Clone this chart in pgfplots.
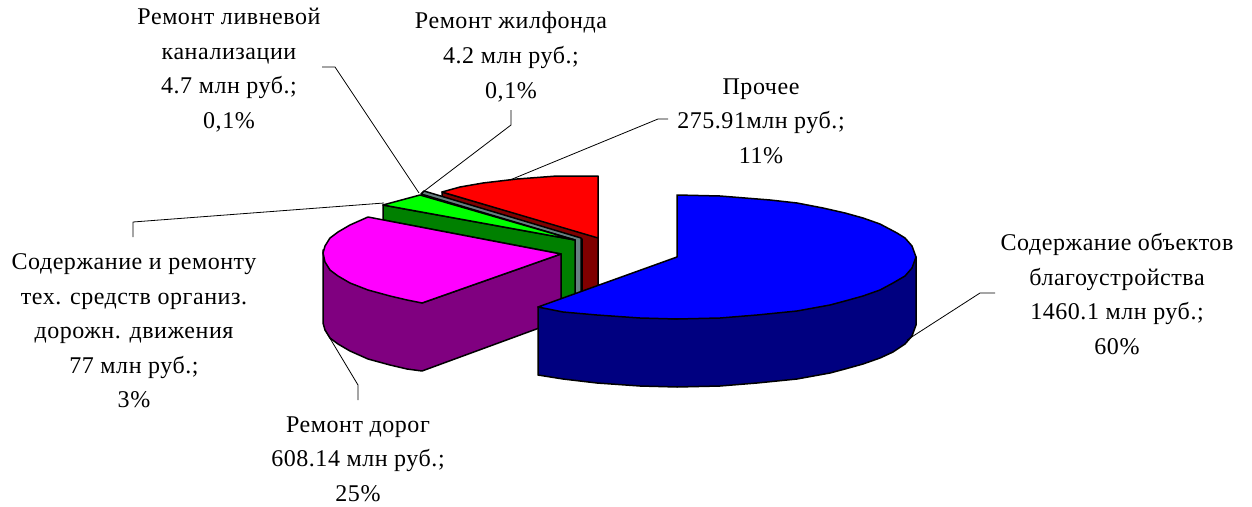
\documentclass[border=0pt]{standalone}
\usepackage{fontspec}
\setmainfont[LetterSpace=2.3]{Liberation Serif}
\usepackage{pgfplots}
\pgfplotsset{compat=1.18}
\definecolor{cblue}{HTML}{0000FF}
\definecolor{cnavy}{HTML}{000080}
\definecolor{cmag}{HTML}{FF00FF}
\definecolor{cpur}{HTML}{800080}
\definecolor{clime}{HTML}{00FF00}
\definecolor{cgreen}{HTML}{008000}
\definecolor{cred}{HTML}{FF0000}
\definecolor{cmar}{HTML}{800000}
\definecolor{cgray}{HTML}{668080}
\begin{document}
\begin{tikzpicture}[lab/.style={align=center,inner sep=0pt,font=\fontsize{24}{34.6}\selectfont}]
\path[use as bounding box] (0,0) rectangle (1252pt,506pt);
\begin{axis}[
  at={(0,0)}, anchor=south west,
  scale only axis, width=1252pt, height=506pt,
  xmin=0, xmax=1252, ymin=0, ymax=506, y dir=reverse,
  hide axis, clip=false,
  every axis plot/.append style={line join=round},
  poly/.style={draw=black, line width=1.5pt, mark=none},
  lead/.style={draw=black, line width=0.8pt, mark=none},
]
% Прочее (dark side, red top)
\addplot[poly, fill=cmar] coordinates {(442,192)(598,237)(598,290)(582,296)(582,239)(442,197)} -- cycle;
\addplot[poly, fill=cred] coordinates {(442,192)(460,187)(483,183)(517,179)(557,176)(598,176)(598,238)} -- cycle;
% Ремонт жилфонда / ливневой канализации
\addplot[poly, fill=cgray] coordinates {(421,194)(424,191)(581,238)(581,295)(575,297)(575,240)} -- cycle;
% Содержание и ремонт тех. средств
\addplot[poly, fill=cgreen] coordinates {(383,205)(575,240)(575,298)(561,303)(561,254)(383,220)} -- cycle;
\addplot[poly, fill=clime] coordinates {(383,205)(420,195)(575,240)} -- cycle;
% Ремонт дорог
\addplot[poly, fill=cpur] coordinates {(323,250)(323,323)(325,330)(330,338)(338,344)(350,351)(368,359)(390,365)(407,369)(422,371)(561,320)(561,254)(422,303)} -- cycle;
\addplot[poly, fill=cmag] coordinates {(368,217)(350,225)(338,232)(330,238)(325,246)(323,253)(325,262)(330,270)(338,276)(350,283)(368,290)(390,296)(407,300)(422,303)(561,254)} -- cycle;
% Содержание объектов благоустройства
\addplot[poly, fill=cnavy] coordinates {(538,307)(538,375)(563,379)(597,383)(640,386)(677,387)(720,386)(757,383)(797,379)(830,373)(845,369)(863,364)(880,358)(893,352)(905,344)(912,336)(916,325)(916,257)(677,319)} -- cycle;
\addplot[poly, fill=cblue] coordinates {(677,195)(720,196)(745,198)(770,200)(797,203)(823,208)(845,213)(863,218)(880,224)(897,233)(905,238)(912,246)(916,257)(912,268)(905,276)(893,283)(880,290)(863,296)(845,301)(830,305)(797,311)(757,315)(720,318)(677,319)(640,318)(597,315)(563,312)(538,307)(677,257)} -- cycle;
% выноски
\addplot[lead] coordinates {(322,67)(335,67)(419,193)};
\addplot[lead] coordinates {(511,110)(511,125)(423,192)};
\addplot[lead] coordinates {(668,119)(658,119)(510,180)};
\addplot[lead] coordinates {(133,237)(133,222)(384,203)};
\addplot[lead] coordinates {(358,400)(358,385)(325,330)};
\addplot[lead] coordinates {(995,293)(980,293)(907,340)};
% подписи
\node[lab] at (axis cs:229,70) {Ремонт ливневой\\канализации\\4.7 млн руб.;\\0,1\%};
\node[lab] at (axis cs:511,57) {Ремонт жилфонда\\4.2 млн руб.;\\0,1\%};
\node[lab] at (axis cs:761,121) {Прочее\\275.91млн руб.;\\11\%};
\node[lab] at (axis cs:134,331) {Содержание и ремонту\\тех. средств организ.\\дорожн. движения\\77 млн руб.;\\3\%};
\node[lab] at (axis cs:358,459) {Ремонт дорог\\608.14 млн руб.;\\25\%};
\node[lab] at (axis cs:1117,294) {Содержание объектов\\благоустройства\\1460.1 млн руб.;\\60\%};
\end{axis}
\end{tikzpicture}
\end{document}
